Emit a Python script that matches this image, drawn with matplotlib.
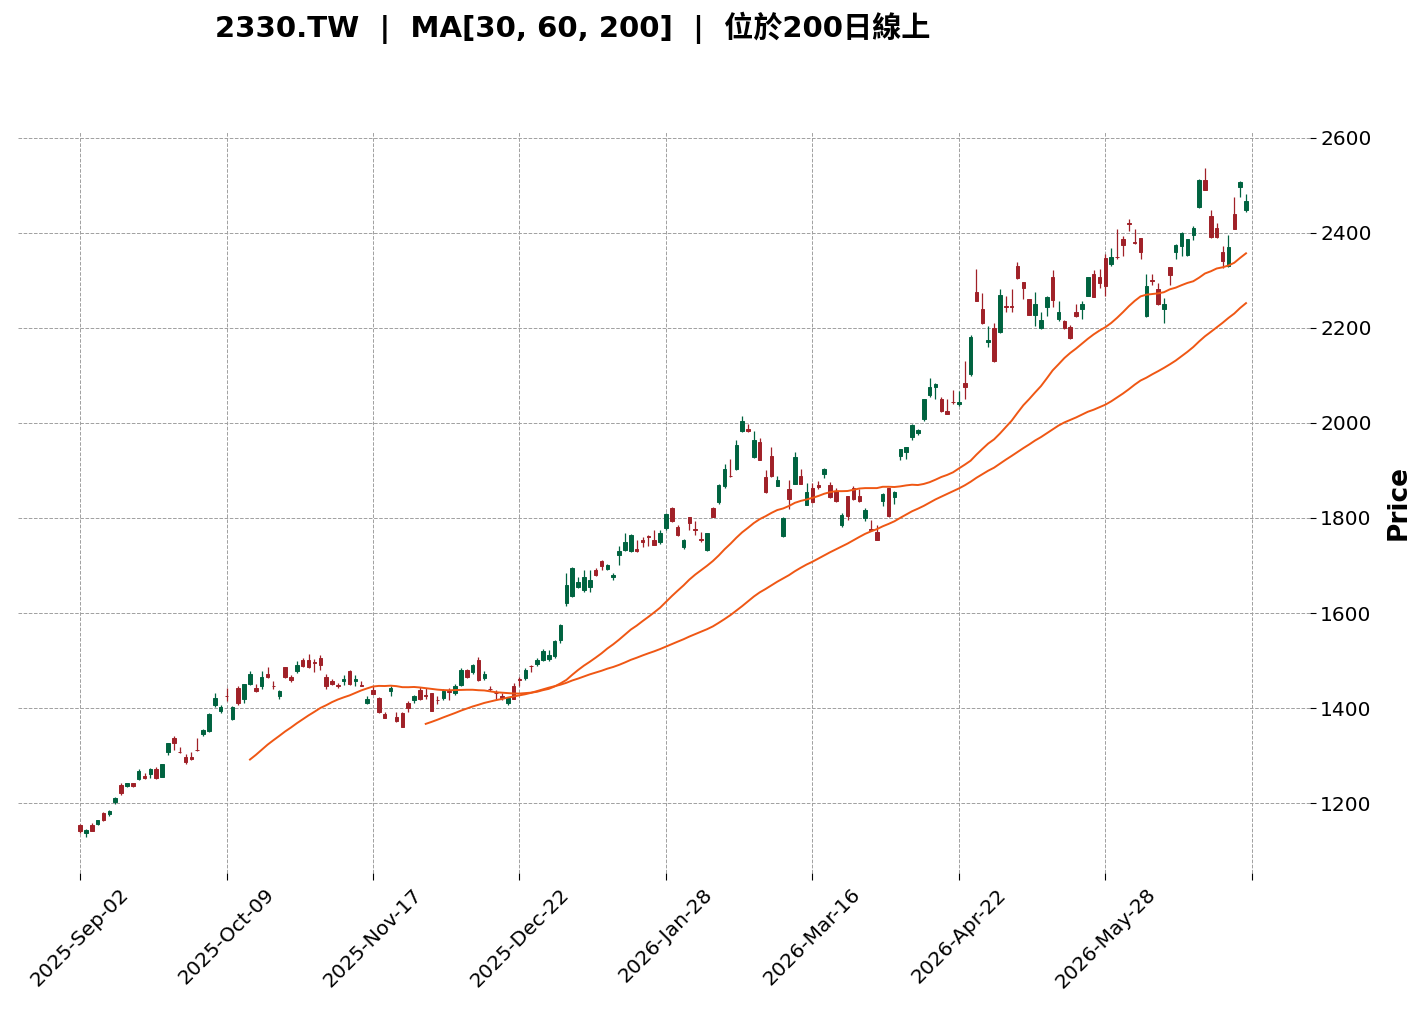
import numpy as np
import pandas as pd
import matplotlib
matplotlib.use("Agg")
import matplotlib.pyplot as plt

# ---------------- DATA ----------------
TICKER = "2330.TW"
MA_WINDOWS = [30, 60, 200]
TITLE_NOTE = "位於200日線上"

TICK_LABELS = ["2025-Sep-02", "2025-Oct-09", "2025-Nov-17", "2025-Dec-22",
               "2026-Jan-28", "2026-Mar-16", "2026-Apr-22", "2026-May-28", ""]

opens = [1154, 1138, 1154, 1156, 1180, 1178, 1202, 1238, 1237, 1242,
         1251, 1258, 1262, 1272, 1256, 1307, 1337, 1308, 1298, 1297,
         1312, 1346, 1351, 1406, 1394, 1426, 1376, 1442, 1420, 1450,
         1442, 1446, 1472, 1447, 1425, 1486, 1466, 1479, 1502, 1502,
         1496, 1505, 1465, 1457, 1448, 1456, 1477, 1456, 1448, 1410,
         1437, 1422, 1387, 1435, 1382, 1389, 1410, 1416, 1437, 1427,
         1431, 1418, 1422, 1435, 1431, 1449, 1481, 1475, 1502, 1464,
         1441, 1432, 1426, 1410, 1447, 1461, 1463, 1489, 1493, 1502,
         1503, 1510, 1544, 1621, 1635, 1655, 1649, 1654, 1691, 1710,
         1693, 1675, 1723, 1732, 1730, 1735, 1754, 1762, 1754, 1749,
         1778, 1820, 1780, 1738, 1801, 1776, 1755, 1733, 1820, 1833,
         1868, 1889, 1902, 1983, 1987, 1928, 1959, 1886, 1930, 1868,
         1763, 1860, 1872, 1889, 1828, 1864, 1870, 1893, 1870, 1857,
         1785, 1846, 1862, 1846, 1799, 1776, 1770, 1835, 1862, 1844,
         1930, 1938, 1970, 1979, 2009, 2058, 2075, 2050, 2026, 2044,
         2039, 2084, 2103, 2275, 2240, 2170, 2200, 2191, 2245, 2245,
         2330, 2296, 2260, 2228, 2199, 2243, 2307, 2218, 2215, 2202,
         2234, 2239, 2268, 2314, 2306, 2346, 2335, 2350, 2386, 2420,
         2380, 2389, 2224, 2300, 2281, 2239, 2328, 2359, 2373, 2354,
         2395, 2454, 2512, 2436, 2410, 2360, 2330, 2440, 2496, 2448]

highs = [1157, 1145, 1158, 1165, 1181, 1185, 1213, 1242, 1243, 1243,
         1272, 1263, 1273, 1277, 1283, 1327, 1342, 1318, 1303, 1307,
         1337, 1356, 1389, 1432, 1406, 1442, 1404, 1447, 1451, 1479,
         1450, 1479, 1486, 1456, 1437, 1487, 1470, 1498, 1505, 1513,
         1503, 1512, 1472, 1462, 1453, 1470, 1481, 1470, 1458, 1426,
         1446, 1423, 1391, 1447, 1391, 1391, 1414, 1427, 1444, 1442,
         1432, 1426, 1440, 1442, 1451, 1484, 1482, 1492, 1507, 1477,
         1447, 1439, 1431, 1423, 1452, 1465, 1484, 1491, 1505, 1524,
         1523, 1543, 1576, 1684, 1696, 1676, 1690, 1690, 1695, 1711,
         1704, 1684, 1740, 1768, 1766, 1754, 1761, 1765, 1775, 1774,
         1811, 1823, 1786, 1755, 1802, 1793, 1770, 1769, 1823, 1871,
         1914, 1924, 1965, 2014, 1998, 1984, 1968, 1900, 1949, 1888,
         1801, 1879, 1939, 1903, 1874, 1874, 1877, 1905, 1876, 1863,
         1810, 1847, 1868, 1861, 1821, 1796, 1786, 1852, 1863, 1856,
         1946, 1950, 1997, 1987, 2051, 2095, 2084, 2055, 2050, 2070,
         2067, 2130, 2186, 2324, 2274, 2203, 2211, 2281, 2267, 2281,
         2339, 2297, 2261, 2275, 2234, 2266, 2321, 2256, 2216, 2205,
         2251, 2256, 2308, 2321, 2324, 2356, 2368, 2408, 2393, 2430,
         2408, 2390, 2314, 2314, 2295, 2263, 2329, 2376, 2401, 2387,
         2414, 2513, 2537, 2447, 2421, 2372, 2395, 2476, 2508, 2481]

lows = [1138, 1128, 1141, 1153, 1162, 1173, 1198, 1218, 1234, 1234,
        1249, 1251, 1253, 1251, 1255, 1302, 1312, 1306, 1282, 1291,
        1310, 1342, 1350, 1403, 1390, 1414, 1375, 1406, 1410, 1449,
        1434, 1441, 1463, 1441, 1420, 1464, 1455, 1474, 1487, 1485,
        1476, 1481, 1441, 1449, 1442, 1449, 1449, 1447, 1446, 1409,
        1429, 1390, 1379, 1425, 1371, 1360, 1391, 1410, 1418, 1419,
        1393, 1409, 1418, 1418, 1428, 1447, 1464, 1472, 1456, 1460,
        1435, 1420, 1417, 1407, 1419, 1447, 1460, 1475, 1488, 1498,
        1498, 1505, 1536, 1615, 1634, 1653, 1644, 1644, 1678, 1691,
        1690, 1669, 1700, 1730, 1729, 1729, 1739, 1740, 1743, 1745,
        1774, 1791, 1763, 1735, 1775, 1765, 1749, 1730, 1802, 1830,
        1863, 1887, 1901, 1981, 1981, 1927, 1922, 1853, 1887, 1867,
        1760, 1819, 1871, 1871, 1827, 1832, 1860, 1884, 1843, 1834,
        1780, 1796, 1838, 1834, 1794, 1774, 1753, 1826, 1802, 1830,
        1921, 1925, 1965, 1974, 2005, 2054, 2051, 2024, 2018, 2039,
        2036, 2051, 2098, 2256, 2209, 2160, 2129, 2189, 2233, 2233,
        2303, 2260, 2227, 2203, 2198, 2225, 2244, 2214, 2197, 2177,
        2223, 2219, 2267, 2264, 2284, 2267, 2330, 2345, 2351, 2403,
        2377, 2345, 2223, 2291, 2249, 2210, 2291, 2345, 2352, 2352,
        2385, 2453, 2489, 2390, 2390, 2326, 2329, 2408, 2476, 2444]

closes = [1142, 1144, 1142, 1164, 1164, 1184, 1210, 1222, 1242, 1237,
          1268, 1252, 1272, 1252, 1282, 1326, 1326, 1307, 1287, 1292,
          1311, 1353, 1388, 1421, 1402, 1425, 1403, 1411, 1450, 1472,
          1435, 1466, 1465, 1446, 1436, 1465, 1460, 1491, 1489, 1486,
          1495, 1490, 1446, 1450, 1447, 1462, 1450, 1462, 1447, 1419,
          1430, 1391, 1380, 1443, 1372, 1361, 1400, 1426, 1419, 1426,
          1394, 1417, 1436, 1434, 1447, 1481, 1465, 1491, 1460, 1472,
          1440, 1431, 1421, 1422, 1420, 1460, 1481, 1488, 1502, 1521,
          1512, 1542, 1575, 1660, 1695, 1665, 1676, 1670, 1679, 1698,
          1700, 1681, 1731, 1750, 1765, 1730, 1749, 1761, 1744, 1768,
          1809, 1793, 1764, 1754, 1789, 1775, 1754, 1768, 1803, 1870,
          1904, 1888, 1954, 2005, 1982, 1965, 1923, 1854, 1888, 1879,
          1800, 1839, 1928, 1872, 1855, 1833, 1865, 1902, 1844, 1835,
          1806, 1804, 1839, 1835, 1816, 1775, 1754, 1851, 1804, 1855,
          1945, 1949, 1996, 1986, 2050, 2076, 2081, 2025, 2019, 2043,
          2045, 2075, 2180, 2257, 2210, 2175, 2130, 2270, 2244, 2244,
          2304, 2283, 2228, 2251, 2216, 2265, 2258, 2234, 2199, 2178,
          2224, 2251, 2307, 2265, 2294, 2288, 2349, 2349, 2374, 2419,
          2379, 2360, 2289, 2299, 2250, 2250, 2311, 2375, 2400, 2386,
          2410, 2512, 2490, 2391, 2391, 2340, 2370, 2409, 2507, 2466]

# ---------------- STYLE ----------------
UP_COLOR = "#006340"
DOWN_COLOR = "#a02128"
MA_COLOR = "#ef5714"
GRID_COLOR = "#a0a0a0"
TICK_STEP = 25

df = pd.DataFrame({"Open": opens, "High": highs, "Low": lows, "Close": closes})
x = np.arange(len(df))
up = df["Close"] >= df["Open"]
colors = np.where(up, UP_COLOR, DOWN_COLOR)

fig = plt.figure(figsize=(14.25, 10.11), dpi=100)
ax = fig.add_axes([0.0126, 0.1365, 0.9066, 0.7329])

# wicks then bodies
ax.vlines(x, df["Low"], df["High"], colors=colors, linewidth=0.9, zorder=2)
body_lo = np.minimum(df["Open"], df["Close"])
body_h = (df["Close"] - df["Open"]).abs()
ax.bar(x, body_h, bottom=body_lo, width=0.6, color=colors,
       edgecolor=colors, linewidth=0.7, zorder=3)

# moving averages (computed on the shown closes, like mplfinance)
for w in MA_WINDOWS:
    ma = df["Close"].rolling(w).mean()
    ax.plot(x, ma, color=MA_COLOR, linewidth=1.4, zorder=4)

ax.set_xlim(-10.6, 209.9)
ax.set_ylim(1053, 2612)

ticks = list(range(0, len(TICK_LABELS) * TICK_STEP, TICK_STEP))
ax.set_xticks(ticks)
ax.set_xticklabels(TICK_LABELS, rotation=45, ha="center", fontsize=14.5)
ax.set_yticks(range(1200, 2601, 200))
ax.yaxis.tick_right()
ax.yaxis.set_label_position("right")
ax.tick_params(axis="y", labelsize=14.5, length=4)
ax.tick_params(axis="x", length=5)
ax.set_ylabel("Price", fontsize=19, fontweight="bold", labelpad=10)

ax.grid(True, color=GRID_COLOR, linestyle="--", linewidth=0.7)
ax.set_axisbelow(True)
for s in ax.spines.values():
    s.set_visible(False)

fig.text(0.151, 0.972,
         f"{TICKER}  |  MA{MA_WINDOWS}  |  {TITLE_NOTE}",
         ha="left", va="center", fontsize=21, fontweight="bold",
         family=["DejaVu Sans", "Noto Sans CJK TC"])

fig.savefig("out.png", dpi=100)
